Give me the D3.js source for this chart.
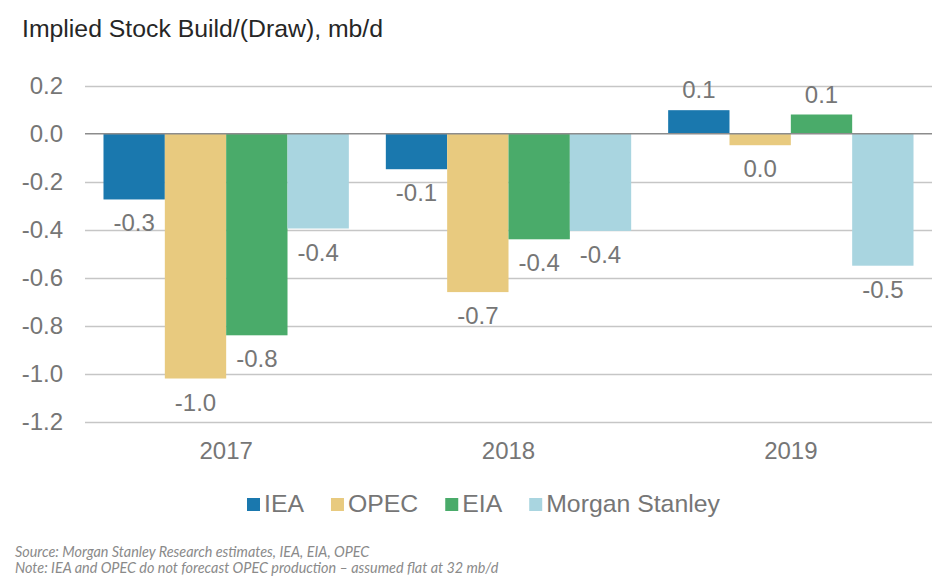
<!DOCTYPE html>
<html><head><meta charset="utf-8">
<script src="https://cdn.jsdelivr.net/npm/d3@7"></script>
<style>body{margin:0;background:#fff}svg{display:block}</style>
</head><body>
<script>
const categories = ["2017", "2018", "2019"];
const seriesNames = ["IEA", "OPEC", "EIA", "Morgan Stanley"];
const iea = [-0.274, -0.148, 0.098];
const opec = [-1.02, -0.66, -0.048];
const eia = [-0.84, -0.44, 0.08];
const morganStanley = [-0.395, -0.405, -0.55];
const yTicks = [0.2, 0.0, -0.2, -0.4, -0.6, -0.8, -1.0, -1.2];
const colors = ["#1a78ae", "#e8ca7f", "#4aab6a", "#a9d5e0"];
const title = "Implied Stock Build/(Draw), mb/d";
const notes = ["Source: Morgan Stanley Research estimates, IEA, EIA, OPEC",
  "Note: IEA and OPEC do not forecast OPEC production \u2013 assumed flat at 32 mb/d"];

const seriesValues = [iea, opec, eia, morganStanley];
const W = 949, H = 588;
const svg = d3.select("body").append("svg").attr("width", W).attr("height", H);
const font = "'Liberation Sans', Arial, sans-serif";
const gray = "#767676";

svg.append("text").attr("x", 22).attr("y", 37).text(title)
  .attr("font-family", font).attr("font-size", 24.8).attr("fill", "#262626");

const x0 = d3.scaleBand().domain(categories).range([85, 932]).paddingInner(0.131).paddingOuter(0.0655);
const x1 = d3.scaleBand().domain(seriesNames).range([0, x0.bandwidth()]);
const y = d3.scaleLinear().domain([-1.2, 0.2]).range([421.7, 85.7]);

// gridlines
svg.append("g").selectAll("line").data(yTicks.filter(t => t !== 0)).join("line")
  .attr("x1", 85).attr("x2", 932).attr("y1", d => Math.round(y(d)) + 0.5).attr("y2", d => Math.round(y(d)) + 0.5)
  .attr("stroke", "#c6c6c6").attr("stroke-width", 1.5);

// y labels
svg.append("g").selectAll("text").data(yTicks).join("text")
  .attr("x", 63).attr("y", d => y(d) + 8.5).attr("text-anchor", "end")
  .attr("font-family", font).attr("font-size", 24).attr("fill", gray)
  .text(d => d3.format(".1f")(d).replace("\u2212", "-"));

const fmt = v => { const r = Math.round(v * 10) / 10; return (r === 0 ? 0 : r).toFixed(1); };

const data = [];
categories.forEach((c, i) => seriesNames.forEach((s, j) => data.push({c, s, j, v: seriesValues[j][i]})));

svg.append("g").selectAll("rect").data(data).join("rect")
  .attr("x", d => x0(d.c) + x1(d.s)).attr("width", x1.bandwidth())
  .attr("y", d => y(Math.max(0, d.v))).attr("height", d => Math.abs(y(d.v) - y(0)))
  .attr("fill", d => colors[d.j]);

// zero line
svg.append("line").attr("x1", 85).attr("x2", 932).attr("y1", y(0)).attr("y2", y(0))
  .attr("stroke", "#8c8c8c").attr("stroke-width", 1.5);

// value labels
svg.append("g").selectAll("text").data(data).join("text")
  .attr("x", d => x0(d.c) + x1(d.s) + x1.bandwidth() / 2)
  .attr("y", d => d.v >= 0 ? y(d.v) - 12 : y(d.v) + 32)
  .attr("text-anchor", "middle").attr("font-family", font).attr("font-size", 24).attr("fill", gray)
  .text(d => fmt(d.v));

// category labels
svg.append("g").selectAll("text").data(categories).join("text")
  .attr("x", d => x0(d) + x0.bandwidth() / 2).attr("y", 459).attr("text-anchor", "middle")
  .attr("font-family", font).attr("font-size", 24).attr("fill", gray).text(d => d);

// legend
const lg = svg.append("g");
let lx = 247;
seriesNames.forEach((s, j) => {
  lg.append("rect").attr("x", lx).attr("y", 498).attr("width", 13).attr("height", 13).attr("fill", colors[j]);
  const t = lg.append("text").attr("x", lx + 17).attr("y", 512).attr("font-family", font)
    .attr("font-size", 24.8).attr("fill", gray).text(s);
  lx += 17 + t.node().getComputedTextLength() + 27;
});

// notes
svg.append("g").selectAll("text").data(notes).join("text")
  .attr("x", 15).attr("y", (d, i) => 557 + i * 16).attr("font-family", "Lato, 'Open Sans', sans-serif")
  .attr("font-style", "italic").attr("font-size", 14.4).attr("fill", "#8a8a8a").text(d => d);
</script>
</body></html>
